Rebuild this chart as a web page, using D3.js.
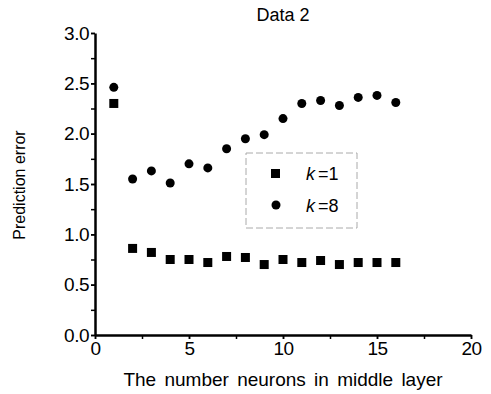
<!DOCTYPE html>
<html lang="en">

<head>
  <meta charset="utf-8">
  <title>Data 2</title>
  <script src="https://d3js.org/d3.v7.min.js"></script>
  <style>
    body { margin: 0; background: #fff; }
    text { font-family: "Liberation Sans", Arial, sans-serif; fill: #000; }
    .axis path, .axis line { stroke: #000; }
    .axis path { stroke-width: 2.5; }
    .axis line { stroke-width: 1.5; }
    .axis text { font-size: 19px; letter-spacing: -0.5px; }
  </style>
</head>

<body>
  <script>
    var neurons = [1, 2, 3, 4, 5, 6, 7, 8, 9, 10, 11, 12, 13, 14, 15, 16];
    var errK1 = [2.30, 0.86, 0.82, 0.75, 0.75, 0.72, 0.78, 0.77, 0.70, 0.75, 0.72, 0.74, 0.70, 0.72, 0.72, 0.72];
    var errK8 = [2.46, 1.55, 1.63, 1.51, 1.70, 1.66, 1.85, 1.95, 1.99, 2.15, 2.30, 2.33, 2.28, 2.36, 2.38, 2.31];
    var xTicks = [0, 5, 10, 15, 20];
    var yTicks = [0, 0.5, 1.0, 1.5, 2.0, 2.5, 3.0];
    var legendLabels = ['1', '8'];

    var w = 491, h = 394;
    var margin = {top: 33, right: 20, bottom: 59, left: 95};
    var innerW = 471 - margin.left,
      innerH = h - margin.top - margin.bottom;

    var x = d3.scaleLinear().domain([0, 20]).range([0, innerW]);
    var y = d3.scaleLinear().domain([0, 3]).range([innerH, 0]);

    var svg = d3.select('body').append('svg')
        .attr('width', w)
        .attr('height', h);
    var g = svg.append('g')
        .attr('transform', 'translate(' + [margin.left, margin.top] + ')');

    // minor ticks first, then the labelled axes on top
    g.append('g')
      .attr('class', 'axis')
      .attr('transform', 'translate(0,' + innerH + ')')
      .call(d3.axisBottom(x).tickValues(d3.range(0, 20.1, 2.5)).tickSize(4).tickFormat(''))
      .select('.domain').remove();
    g.append('g')
      .attr('class', 'axis')
      .call(d3.axisLeft(y).tickValues(d3.range(0, 3.01, 0.25)).tickSize(4).tickFormat(''))
      .select('.domain').remove();

    g.append('g')
      .attr('class', 'axis')
      .attr('transform', 'translate(0,' + innerH + ')')
      .call(d3.axisBottom(x).tickValues(xTicks).tickSize(4).tickSizeOuter(0).tickPadding(3).tickFormat(d3.format('d')));

    g.append('g')
      .attr('class', 'axis')
      .call(d3.axisLeft(y).tickValues(yTicks).tickSize(4).tickSizeOuter(0).tickPadding(2).tickFormat(d3.format('.1f')));

    // k = 1 : squares
    var sq = 9;
    g.selectAll('.k1')
      .data(neurons)
    .enter().append('rect')
      .attr('class', 'k1')
      .attr('x', function(d) { return x(d) - sq / 2; })
      .attr('y', function(d, i) { return y(errK1[i]) - sq / 2; })
      .attr('width', sq)
      .attr('height', sq)
      .attr('fill', '#000');

    // k = 8 : circles
    g.selectAll('.k8')
      .data(neurons)
    .enter().append('circle')
      .attr('class', 'k8')
      .attr('cx', function(d) { return x(d); })
      .attr('cy', function(d, i) { return y(errK8[i]); })
      .attr('r', 4.5)
      .attr('fill', '#000');

    // legend
    var lg = svg.append('g').attr('transform', 'translate(246,153)');
    lg.append('rect')
      .attr('width', 111).attr('height', 75)
      .attr('fill', 'none')
      .attr('stroke', '#aaa')
      .attr('stroke-width', 1)
      .attr('stroke-dasharray', '7,3');
    lg.append('rect')
      .attr('x', 25).attr('y', 16).attr('width', sq).attr('height', sq)
      .attr('fill', '#000');
    lg.append('circle')
      .attr('cx', 30).attr('cy', 52).attr('r', 4.5)
      .attr('fill', '#000');
    legendLabels.forEach(function(v, i) {
      var t = lg.append('text')
        .attr('x', 60).attr('y', 27 + i * 32)
        .style('font-size', '18px');
      t.append('tspan').style('font-style', 'italic').text('k');
      t.append('tspan').attr('dx', 3).text('=' + v);
    });

    // title and axis labels
    svg.append('text')
      .attr('x', margin.left + innerW / 2)
      .attr('y', 21)
      .attr('text-anchor', 'middle')
      .style('font-size', '18px')
      .text('Data 2');

    svg.append('text')
      .attr('x', margin.left + innerW / 2)
      .attr('y', 386)
      .attr('text-anchor', 'middle')
      .style('font-size', '19px')
      .style('word-spacing', '3px')
      .text('The number neurons in middle layer');

    svg.append('text')
      .attr('transform', 'translate(25,185) rotate(-90)')
      .attr('text-anchor', 'middle')
      .style('font-size', '16px')
      .text('Prediction error');
  </script>
</body>

</html>
